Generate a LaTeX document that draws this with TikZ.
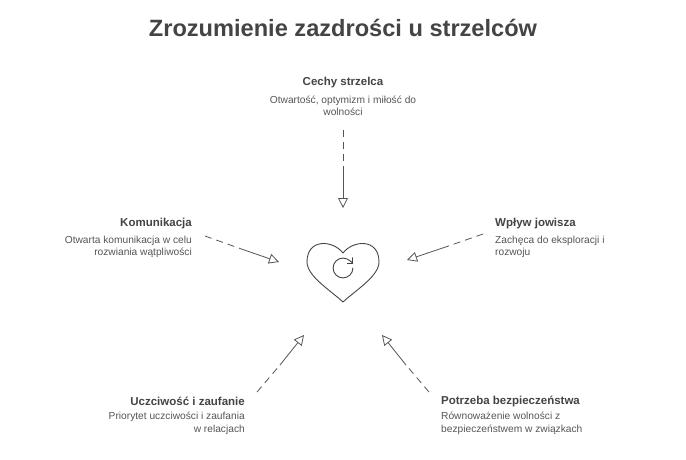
\documentclass[tikz,border=0pt]{standalone}
\usepackage{fontspec}
\setmainfont{Liberation Sans}
\usetikzlibrary{arrows.meta}
\definecolor{titlec}{HTML}{444444}
\definecolor{headc}{HTML}{444444}
\definecolor{descc}{HTML}{555555}
\definecolor{linec}{HTML}{555555}
\tikzset{
  titletext/.style={text=titlec,font=\bfseries\fontsize{23.6}{28}\selectfont,inner sep=0pt},
  headtext/.style={text=headc,font=\bfseries\fontsize{11.5}{14}\selectfont,inner sep=0pt},
  desctext/.style={text=descc,font=\fontsize{10.2}{12.5}\selectfont,inner sep=0pt},
  dashpart/.style={draw=linec,line width=0.8pt,dash pattern=on 7pt off 5pt},
  solidpart/.style={draw=linec,line width=0.8pt,-{Triangle[open,length=10pt,width=10pt,line width=0.8pt]}},
  iconline/.style={draw=titlec,line width=0.9pt,line cap=round,line join=round}
}
\begin{document}
\begin{tikzpicture}[x=1pt,y=-1pt]
\useasboundingbox (0,0) rectangle (686,460);
\node[titletext] (title) at (343,28) {Zrozumienie zazdrości u strzelców};
% top
\node[headtext] (th) at (343,83) {Cechy strzelca};
\node[desctext,align=center] (td) at (343,106) {Otwartość, optymizm i miłość do\\wolności};
% left
\node[headtext,anchor=east] (lh) at (192,224) {Komunikacja};
\node[desctext,align=right,anchor=east] (ld) at (192,247) {Otwarta komunikacja w celu\\rozwiania wątpliwości};
% right
\node[headtext,anchor=west] (rh) at (495,224) {Wpływ jowisza};
\node[desctext,align=left,anchor=west] (rd) at (495,247) {Zachęca do eksploracji i\\rozwoju};
% bottom left
\node[headtext,anchor=east] (blh) at (245,401.5) {Uczciwość i zaufanie};
\node[desctext,align=right,anchor=east] (bld) at (245,423.5) {Priorytet uczciwości i zaufania\\w relacjach};
% bottom right
\node[headtext,anchor=west] (brh) at (441,401.5) {Potrzeba bezpieczeństwa};
\node[desctext,align=left,anchor=west] (brd) at (441,423.5) {Równoważenie wolności z\\bezpieczeństwem w związkach};
% heart
\coordinate (hc) at (343,270);
\draw[iconline] (343,253) .. controls (333,240) and (307,238) .. (307,262)
  .. controls (307,276) and (330,290) .. (343,302)
  .. controls (356,290) and (379,276) .. (379,262)
  .. controls (379,238) and (353,240) .. (343,253) -- cycle;
% refresh icon
\draw[iconline] (352.9,268) arc[start angle=0,end angle=270,radius=9.9]
  .. controls (345.8,258.1) and (348.4,259.2) .. (350.4,261.1) -- (352.9,263.2);
\draw[iconline] (352.9,257.7) -- (352.9,263.2) -- (347.4,263.2);
% connector coordinates
\coordinate (ts) at (343,130); \coordinate (tm) at (343,170); \coordinate (te) at (343,208);
\coordinate (ls) at (205,236); \coordinate (lm) at (240,248.5); \coordinate (le) at (279,262);
\coordinate (rs) at (483,234); \coordinate (rm) at (447,246.5); \coordinate (re) at (407,260);
\coordinate (bls) at (257,392); \coordinate (blm) at (280,365); \coordinate (ble) at (304,335);
\coordinate (brs) at (429,392); \coordinate (brm) at (406,365); \coordinate (bre) at (382,335);
\draw[dashpart] (ts) -- (tm); \draw[solidpart] (tm) -- (te);
\draw[dashpart] (ls) -- (lm); \draw[solidpart] (lm) -- (le);
\draw[dashpart] (rs) -- (rm); \draw[solidpart] (rm) -- (re);
\draw[dashpart] (bls) -- (blm); \draw[solidpart] (blm) -- (ble);
\draw[dashpart] (brs) -- (brm); \draw[solidpart] (brm) -- (bre);
\end{tikzpicture}
\end{document}
